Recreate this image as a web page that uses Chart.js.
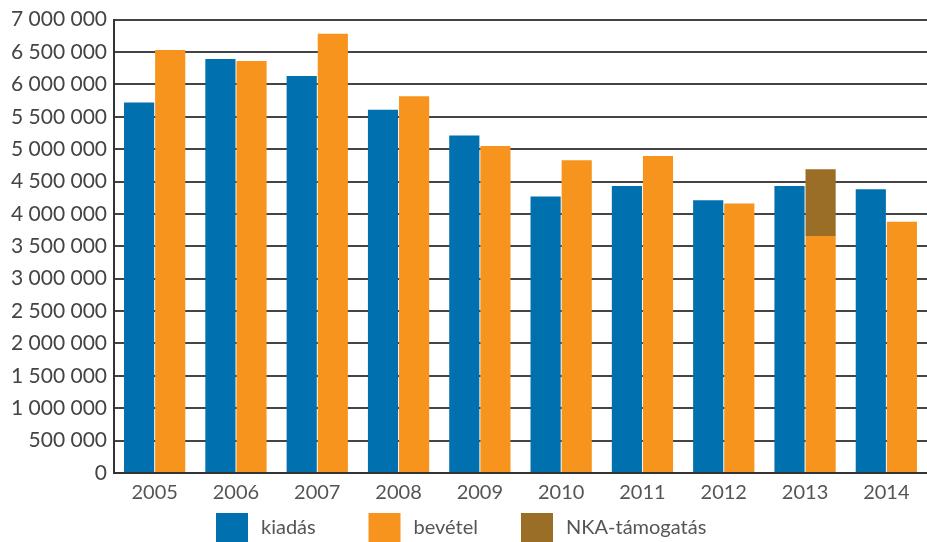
<!DOCTYPE html>
<html>
<head>
<meta charset="utf-8">
<script src="https://cdn.jsdelivr.net/npm/chart.js@4"></script>
<style>
  html, body { margin: 0; padding: 0; background: #fff; }
  #wrap { width: 927px; height: 542px; }
</style>
</head>
<body>
<div id="wrap"><canvas id="myChart" width="927" height="542"></canvas></div>
<script>
// évek és értékek (Ft)
const years = ['2005', '2006', '2007', '2008', '2009', '2010', '2011', '2012', '2013', '2014'];
const kiadas = [5720000, 6390000, 6130000, 5610000, 5210000, 4270000, 4430000, 4210000, 4430000, 4380000];
const bevetel = [6530000, 6360000, 6780000, 5815000, 5050000, 4830000, 4895000, 4160000, 3660000, 3880000];
const nka = [null, null, null, null, null, null, null, null, 1030000, null];

// ezres tagolás szóközzel
const fmt = v => String(v).replace(/\B(?=(\d{3})+(?!\d))/g, ' ');

// saját jelmagyarázat: egyenlő távolságú elemek a diagram alatt
const bottomLegend = {
  id: 'bottomLegend',
  afterDraw(chart) {
    const c = chart.ctx;
    const startX = 216, stepX = 152.5, boxY = 513;
    c.save();
    c.font = '20px Lato';
    c.textBaseline = 'middle';
    chart.data.datasets.forEach((ds, i) => {
      const x = startX + i * stepX;
      c.fillStyle = ds.backgroundColor;
      c.fillRect(x, boxY, 32, 29);
      c.fillStyle = '#555';
      c.fillText(ds.label, x + 45, boxY + 15);
    });
    c.restore();
  }
};

const ctx = document.getElementById('myChart').getContext('2d');

new Chart(ctx, {
  type: 'bar',
  data: {
    labels: years,
    datasets: [
      { label: 'kiadás', data: kiadas, backgroundColor: '#0070ae', stack: 'k' },
      { label: 'bevétel', data: bevetel, backgroundColor: '#f7941d', stack: 'b' },
      { label: 'NKA-támogatás', data: nka, backgroundColor: '#9a6e26', stack: 'b' }
    ]
  },
  options: {
    responsive: false,
    animation: false,
    datasets: { bar: { barPercentage: 0.97, categoryPercentage: 0.765 } },
    layout: { padding: { left: 4, right: 0, top: 19, bottom: 37 } },
    plugins: {
      tooltip: { enabled: false },
      legend: { display: false }
    },
    scales: {
      x: {
        stacked: true,
        grid: { display: false },
        border: { color: '#333', width: 2 },
        ticks: { color: '#555', font: { family: 'Lato', size: 20 }, padding: 0 }
      },
      y: {
        stacked: true,
        min: 0,
        max: 7000000,
        border: { color: '#333', width: 2 },
        grid: { color: '#444', lineWidth: 2, drawTicks: false },
        ticks: {
          stepSize: 500000,
          autoSkip: false,
          color: '#444',
          padding: 7,
          font: { family: 'Lato', size: 21 },
          callback: v => fmt(v)
        }
      }
    }
  },
  plugins: [bottomLegend]
});
</script>
</body>
</html>
